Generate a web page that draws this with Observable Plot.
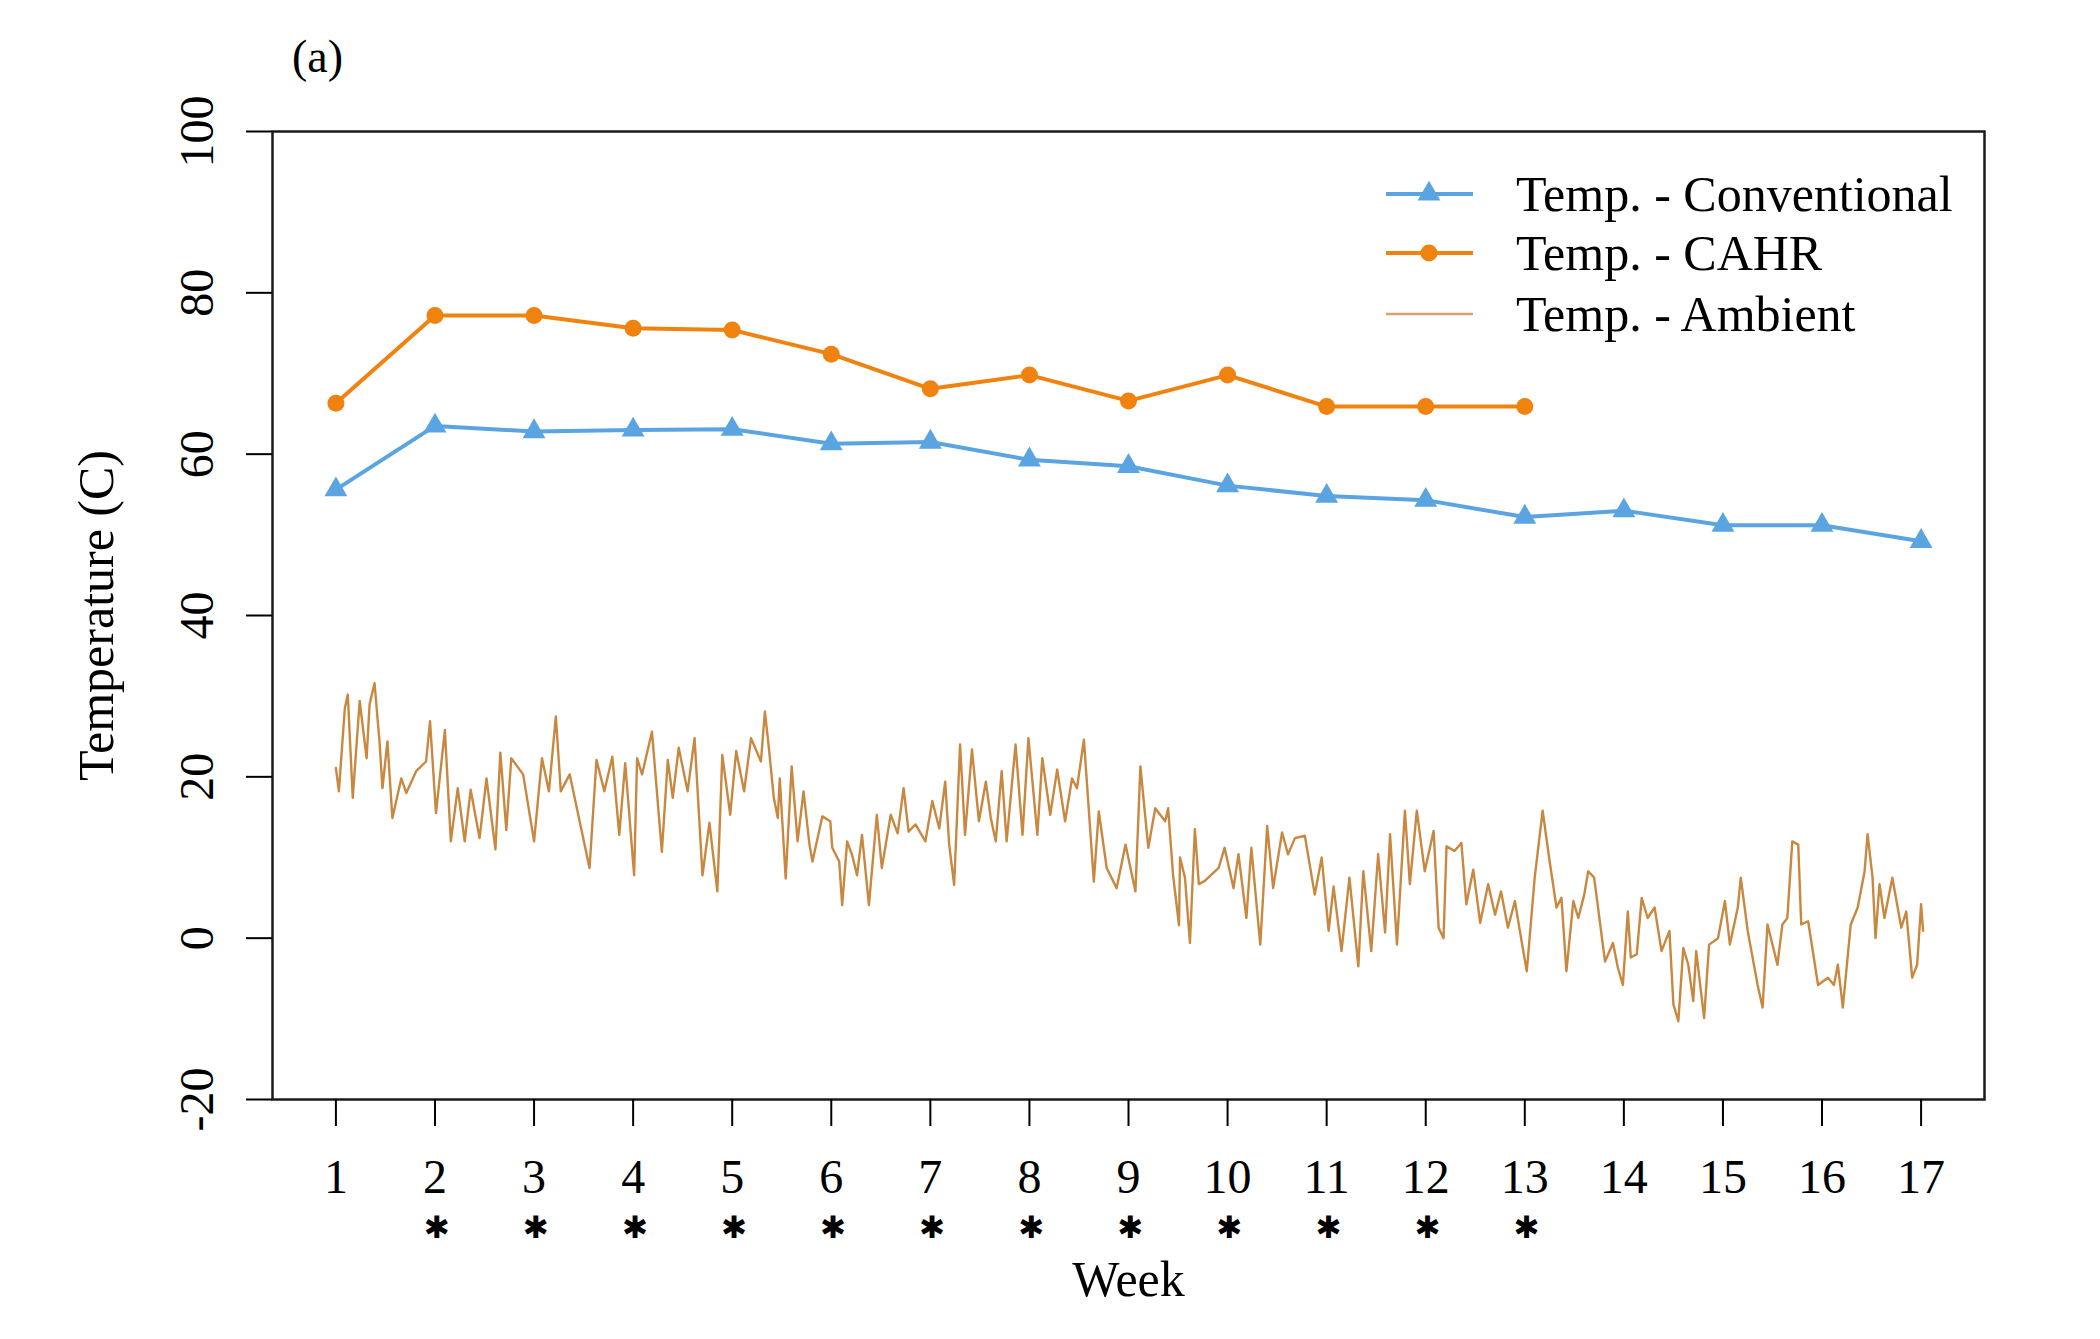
<!DOCTYPE html>
<html>
<head>
<meta charset="utf-8">
<script src="https://cdn.jsdelivr.net/npm/d3@7"></script>
<script src="https://cdn.jsdelivr.net/npm/@observablehq/plot@0.6"></script>
<style>
  html, body { margin: 0; padding: 0; background: #fff; overflow: hidden; }
  #wrap { position: relative; width: 2100px; height: 1339px; }
  #wrap svg { position: absolute; left: 0; top: 0; }
</style>
</head>
<body>
<div id="wrap"></div>
<script>
// ---- Data ----
const weeks = [1,2,3,4,5,6,7,8,9,10,11,12,13,14,15,16,17];
const conventionalTemp = [55.6, 63.5, 62.8, 63.0, 63.1, 61.3, 61.5, 59.3, 58.5, 56.1, 54.8, 54.3, 52.2, 53.0, 51.2, 51.2, 49.2];
const cahrWeeks = [1,2,3,4,5,6,7,8,9,10,11,12,13];
const cahrTemp = [66.3, 77.2, 77.2, 75.6, 75.4, 72.4, 68.1, 69.8, 66.6, 69.8, 65.9, 65.9, 65.9];
const yTicks = [-20, 0, 20, 40, 60, 80, 100];
const starWeeks = [2,3,4,5,6,7,8,9,10,11,12,13];

const ambientWeek = [
  1.00,1.03,1.09,1.12,1.17,1.24,1.31,1.34,1.39,1.44,1.47,1.52,1.57,1.66,1.71,1.81,1.91,1.95,2.01,2.10,
  2.16,2.23,2.30,2.36,2.45,2.52,2.61,2.66,2.72,2.77,2.89,3.00,3.08,3.15,3.22,3.27,3.36,3.46,3.56,3.63,
  3.71,3.79,3.86,3.92,4.01,4.04,4.09,4.19,4.29,4.35,4.40,4.46,4.55,4.62,4.70,4.77,4.85,4.90,4.98,5.04,
  5.12,5.19,
  5.29,5.33,5.37,5.42,5.46,5.48,5.54,5.60,5.66,5.72,5.78,5.81,5.91,5.99,6.01,6.08,6.11,6.16,6.21,6.26,
  6.31,6.38,6.46,6.51,6.60,6.67,6.73,6.78,6.85,6.95,7.02,7.09,7.15,7.19,7.24,7.30,7.35,7.42,7.49,7.56,
  7.61,7.66,7.72,7.77,7.86,7.93,7.99,8.08,8.13,8.21,8.28,8.36,8.43,8.48,8.55,8.65,8.70,8.78,8.88,8.97,
  9.07,9.12,9.20,9.27,9.37,9.40,9.45,9.51,
  9.52,9.57,9.62,9.67,9.71,9.77,9.91,9.97,10.06,10.11,10.19,10.24,10.33,10.40,10.46,10.55,10.61,10.68,10.78,10.88,
  10.95,11.02,11.07,11.15,11.23,11.32,11.37,11.45,11.52,11.59,11.64,11.71,11.79,11.84,11.91,11.99,12.08,12.13,12.18,12.21,
  12.29,12.36,12.41,12.48,12.55,12.63,12.70,12.76,12.83,12.90,12.95,13.02,13.10,13.18,13.25,13.32,13.37,13.42,13.49,13.54,
  13.60,13.64,13.70,
  13.81,13.89,13.94,13.99,14.04,14.07,14.13,14.18,14.24,14.31,14.38,14.46,14.50,14.55,14.60,14.65,14.70,14.73,14.81,14.86,
  14.95,15.02,15.07,15.15,15.18,15.25,15.35,15.40,15.45,15.55,15.60,15.65,15.70,15.76,15.79,15.86,15.96,16.06,16.12,16.16,
  16.21,16.29,16.36,16.43,16.46,16.51,16.54,16.58,16.63,16.71,16.80,16.85,16.91,16.96,17.00,17.02
];
const ambientTemp = [
  21.1,18.2,28.5,30.2,17.4,29.4,22.3,29.0,31.6,24.4,18.6,24.4,14.9,19.8,18.0,20.7,21.9,26.9,15.5,25.8,
  12.0,18.6,12.0,18.4,12.4,19.8,11.0,23.0,13.4,22.3,20.3,12.0,22.3,18.2,27.5,18.2,20.3,14.5,8.7,22.1,
  18.2,22.5,12.8,21.7,7.8,22.3,20.3,25.6,10.7,22.1,17.4,23.6,18.2,24.8,7.8,14.3,5.8,22.7,15.3,23.2,
  18.2,24.8,
  21.9,28.1,23.6,17.4,14.9,19.8,7.4,21.3,12.0,18.2,11.6,9.5,15.1,14.5,11.2,9.5,4.1,12.0,10.3,7.8,
  12.8,4.1,15.3,8.7,15.3,13.0,18.6,13.2,14.1,12.0,17.0,13.6,19.4,11.6,6.6,24.0,12.8,23.4,14.5,19.4,
  14.9,12.0,20.7,12.0,24.0,12.8,24.8,12.8,22.3,15.3,20.9,14.5,19.8,18.6,24.6,7.0,15.7,8.7,6.2,11.6,
  5.8,21.3,11.2,16.1,14.5,16.1,7.8,1.6,
  10.0,7.5,-0.6,13.5,6.7,7.1,8.7,11.2,6.2,10.4,2.5,11.2,-0.8,13.9,6.2,13.1,10.4,12.4,12.7,5.4,
  10.0,0.9,6.4,-1.6,7.5,-3.5,8.3,-1.6,10.4,0.7,12.9,-0.8,15.8,6.7,15.8,8.3,13.3,1.3,0.0,11.4,
  10.8,11.8,4.2,8.5,1.9,6.7,2.9,5.8,1.3,4.6,0.9,-4.1,7.5,15.8,9.6,3.8,5.0,-4.1,4.6,2.5,
  5.4,8.3,7.5,
  -2.9,-0.6,-3.7,-5.8,3.3,-2.4,-2.0,5.0,2.5,3.8,-1.6,0.9,-8.2,-10.3,-1.2,-3.3,-7.8,-1.6,-9.9,-0.8,
  0.0,4.6,-0.8,3.8,7.5,0.9,-5.8,-8.6,1.7,-3.3,1.7,2.5,12.0,11.6,1.7,2.1,-5.8,-4.9,-5.8,-3.3,
  -8.6,1.7,3.8,8.3,12.9,7.5,0.0,6.7,2.5,7.5,1.3,3.3,-4.9,-3.3,4.2,0.9
];

const legendLabels = ["Temp. - Conventional", "Temp. - CAHR", "Temp. - Ambient"];

// ---- Styles ----
const BLUE = "#5AA5E1";
const ORANGE = "#F0820F";
const TAN = "#C88840";
const FONT = "'Liberation Serif', 'DejaVu Serif', serif";

// ---- Build tables ----
const n = Math.min(ambientWeek.length, ambientTemp.length);
const ambient = d3.range(n).map(i => ({week: ambientWeek[i], temp: ambientTemp[i]}));
const conv = weeks.map((w, i) => ({week: w, temp: conventionalTemp[i]}));
const cahr = cahrWeeks.map((w, i) => ({week: w, temp: cahrTemp[i]}));

const W = 2100, H = 1339;
const chart = Plot.plot({
  width: W,
  height: H,
  marginLeft: 272,
  marginRight: 116,
  marginTop: 131,
  marginBottom: 240,
  style: {fontFamily: FONT, background: "white", color: "black"},
  x: {domain: [0.36, 17.64]},
  y: {domain: [-20, 100]},
  marks: [
    // ambient
    Plot.line(ambient, {x: "week", y: "temp", stroke: TAN, strokeWidth: 2.4}),
    // conventional
    Plot.line(conv, {x: "week", y: "temp", stroke: BLUE, strokeWidth: 4}),
    Plot.dot(conv, {x: "week", y: "temp", symbol: "triangle", fill: BLUE, r: 8.5, stroke: null}),
    // CAHR
    Plot.line(cahr, {x: "week", y: "temp", stroke: ORANGE, strokeWidth: 4}),
    Plot.dot(cahr, {x: "week", y: "temp", symbol: "circle", fill: ORANGE, r: 8.5, stroke: null}),
    // frame
    Plot.frame({stroke: "#1a1a1a", strokeWidth: 2.5}),
    // x axis
    Plot.axisX({ticks: weeks, tickSize: 27, tickPadding: 32, fontSize: 48, label: null, strokeWidth: 2}),
    // y axis ticks (labels drawn rotated below)
    Plot.axisY({ticks: yTicks, tickSize: 26, tickFormat: () => "", label: null, strokeWidth: 2}),
    Plot.text(yTicks, {y: d => d, text: d => String(d), frameAnchor: "left", dx: -75, rotate: -90,
      textAnchor: "middle", lineAnchor: "middle", fontSize: 48}),
    // significance asterisks
    Plot.text(starWeeks, {x: d => d, text: () => "\u2731", frameAnchor: "bottom", dx: 2, dy: 129,
      textAnchor: "middle", lineAnchor: "middle", fontSize: 31, fontFamily: "DejaVu Sans"}),
    // axis titles
    Plot.text(["Week"], {frameAnchor: "bottom", dy: 180, textAnchor: "middle", lineAnchor: "middle", fontSize: 50}),
    Plot.text(["Temperature (C)"], {frameAnchor: "left", dx: -176, rotate: -90, textAnchor: "middle",
      lineAnchor: "middle", fontSize: 50}),
    Plot.text(["(a)"], {frameAnchor: "top-left", dx: 45, dy: -74, textAnchor: "middle", lineAnchor: "middle", fontSize: 46})
  ]
});
document.getElementById("wrap").appendChild(chart);

// ---- Legend overlay (inside the plot frame, top-right) ----
const leg = d3.select("#wrap").append("svg")
  .attr("width", W).attr("height", H)
  .style("pointer-events", "none");
const rows = [
  {label: legendLabels[0], color: BLUE, w: 4, sym: "tri", y: 194},
  {label: legendLabels[1], color: ORANGE, w: 4, sym: "circ", y: 253},
  {label: legendLabels[2], color: "#D2A56E", w: 2.5, sym: null, y: 314}
];
rows.forEach(r => {
  leg.append("line").attr("x1", 1386).attr("x2", 1473).attr("y1", r.y).attr("y2", r.y)
    .attr("stroke", r.color).attr("stroke-width", r.w);
  if (r.sym === "tri") {
    leg.append("path").attr("transform", `translate(1429,${r.y})`)
      .attr("d", d3.symbol(d3.symbolTriangle, Math.PI * 8.5 * 8.5)()).attr("fill", r.color);
  } else if (r.sym === "circ") {
    leg.append("circle").attr("cx", 1429).attr("cy", r.y).attr("r", 8.5).attr("fill", r.color);
  }
  leg.append("text").attr("x", 1516).attr("y", r.y + 17)
    .attr("font-family", FONT).attr("font-size", 50).attr("fill", "black").text(r.label);
});
</script>
</body>
</html>
